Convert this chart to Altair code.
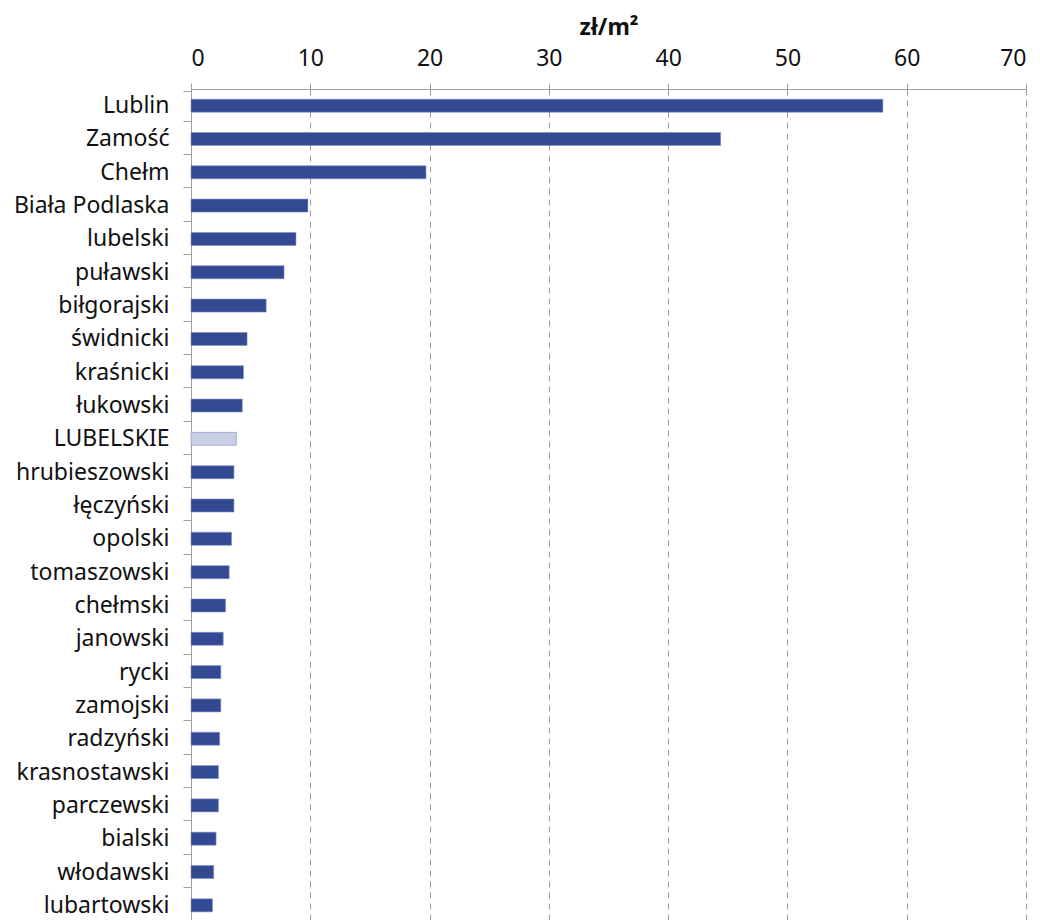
import altair as alt
import pandas as pd

categories = ["Lublin", "Zamość", "Chełm", "Biała Podlaska", "lubelski", "puławski",
              "biłgorajski", "świdnicki", "kraśnicki", "łukowski", "LUBELSKIE",
              "hrubieszowski", "łęczyński", "opolski", "tomaszowski", "chełmski",
              "janowski", "rycki", "zamojski", "radzyński", "krasnostawski",
              "parczewski", "bialski", "włodawski", "lubartowski"]
values = [58.0, 44.4, 19.7, 9.8, 8.8, 7.8, 6.3, 4.7, 4.4, 4.3, 3.8,
          3.6, 3.6, 3.4, 3.2, 2.9, 2.7, 2.5, 2.5, 2.4, 2.3, 2.3, 2.1, 1.9, 1.8]
group = ["region" if c == "LUBELSKIE" else "powiat" for c in categories]

df = pd.DataFrame({"kategoria": categories, "wartosc": values, "grupa": group})

FONT = "Noto Sans"

chart = alt.Chart(df).mark_bar(size=13, stroke="#7f8fc4", strokeWidth=0.6).encode(
    y=alt.Y("kategoria:N", sort=categories, title=None,
            axis=alt.Axis(tickBand="extent", domainColor="#a0a0a0", tickColor="#a0a0a0",
                          tickSize=8, labelPadding=14, labelFontSize=23,
                          labelColor="#111111", labelFont=FONT, grid=False)),
    x=alt.X("wartosc:Q", title="zł/m²",
            scale=alt.Scale(domain=[0, 70], nice=False),
            axis=alt.Axis(orient="top", values=[0, 10, 20, 30, 40, 50, 60, 70],
                          grid=True, gridDash=[6, 5], gridColor="#9a9a9a",
                          domainColor="#a0a0a0", tickColor="#a0a0a0", tickSize=6,
                          labelFontSize=23, labelColor="#111111", labelFont=FONT,
                          labelPadding=13, titleFontSize=23, titleFont=FONT,
                          titleFontWeight="bold", titleColor="#111111",
                          titlePadding=8)),
    color=alt.Color("grupa:N",
                    scale=alt.Scale(domain=["powiat", "region"],
                                    range=["#334a92", "#c9cfe5"]),
                    legend=None),
).properties(width=835, height=833,
             padding={"top": 8, "left": 5, "right": 5, "bottom": 5}
).configure_view(stroke=None)

chart.save("out.html", embed_options={"renderer": "svg", "actions": False})
